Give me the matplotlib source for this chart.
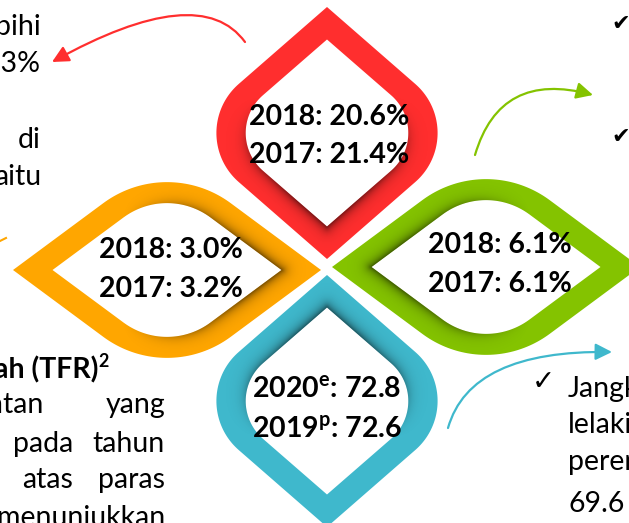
import numpy as np
import matplotlib
matplotlib.use("Agg")
import matplotlib.pyplot as plt
from matplotlib.path import Path
from matplotlib.patches import PathPatch, FancyArrowPatch, ArrowStyle

plt.rcParams['font.family'] = ['Lato', 'DejaVu Sans']
plt.rcParams['mathtext.fontset'] = 'custom'
plt.rcParams['mathtext.rm'] = 'Lato'
plt.rcParams['mathtext.bf'] = 'Lato:bold'

# ---------------- data ----------------
red_years = ["2018", "2017"]
red_values = [20.6, 21.4]
orange_years = ["2018", "2017"]
orange_values = [3.0, 3.2]
green_years = ["2018", "2017"]
green_values = [6.1, 6.1]
blue_years = [r"$\mathbf{2020}^{\mathbf{e}}$", r"$\mathbf{2019}^{\mathbf{p}}$"]
blue_values = [72.8, 72.6]

left_top_lines = ["bihi", "13%", "di", "aitu"]
left_bottom_title = "ah (TFR)"
left_bottom_note = "2"
left_bottom_words = [["ntan", "yang"], ["pada", "tahun"], ["atas", "paras"], ["menunjukkan"]]
right_bottom_lines = ["Jangka", "lelaki", "perempuan", "69.6"]

RED, ORANGE, GREEN, BLUE = "#ff2e2e", "#ffa600", "#84c300", "#3fb8cc"

W, H = 629, 523
fig = plt.figure(figsize=(W / 100, H / 100), dpi=100)
ax = fig.add_axes([0, 0, 1, 1])
ax.axis('off')


def rounded_rhombus(cx, cy, P, Q, r, vertical, n=48):
    if vertical:
        V = np.array([[cx, cy - P], [cx + Q, cy], [cx, cy + P], [cx - Q, cy]], float)
    else:
        V = np.array([[cx - P, cy], [cx, cy - Q], [cx + P, cy], [cx, cy + Q]], float)
    pts = []
    for i in range(4):
        v = V[i]
        if i % 2 == 0:
            pts.append(v)
            continue
        a = V[i - 1]
        c = V[(i + 1) % 4]
        u1 = (a - v) / np.linalg.norm(a - v)
        u2 = (c - v) / np.linalg.norm(c - v)
        half = np.arccos(np.clip(u1 @ u2, -1, 1)) / 2
        d = r / np.tan(half)
        t1 = v + u1 * d
        t2 = v + u2 * d
        b = (u1 + u2) / np.linalg.norm(u1 + u2)
        ctr = v + b * r / np.sin(half)
        a1 = np.arctan2(t1[1] - ctr[1], t1[0] - ctr[0])
        a2 = np.arctan2(t2[1] - ctr[1], t2[0] - ctr[0])
        da = (a2 - a1 + np.pi) % (2 * np.pi) - np.pi
        ang = a1 + da * np.linspace(0, 1, n)
        pts.extend(np.column_stack([ctr[0] + r * np.cos(ang), ctr[1] + r * np.sin(ang)]))
    return np.array(pts)


def poly_dist(X, Y, pts):
    P = np.vstack([pts, pts[:1]])
    d = np.full(X.shape, np.inf)
    for (x1, y1), (x2, y2) in zip(P[:-1], P[1:]):
        dx, dy = x2 - x1, y2 - y1
        L2 = dx * dx + dy * dy
        if L2 == 0:
            continue
        t = np.clip(((X - x1) * dx + (Y - y1) * dy) / L2, 0, 1)
        d = np.minimum(d, np.hypot(X - x1 - t * dx, Y - y1 - t * dy))
    return d


shapes = [
    dict(color=RED, cx=327, cy=133, vertical=True, outer=(126, 144.5, 65), inner=(93.5, 107.5, 50),
         toward=(0, 1), tx=329, base=(125, 163), years=red_years, values=red_values, unit="%"),
    dict(color=ORANGE, cx=167, cy=270, vertical=False, outer=(154, 114, 107), inner=(114.5, 84.7, 73),
         toward=(1, 0), tx=171, base=(258, 297), years=orange_years, values=orange_values, unit="%"),
    dict(color=GREEN, cx=486, cy=267, vertical=False, outer=(154, 114, 107), inner=(114.5, 84.7, 73),
         toward=(-1, 0), tx=500, base=(253, 292), years=green_years, values=green_values, unit="%"),
    dict(color=BLUE, cx=327, cy=401, vertical=True, outer=(126, 144.5, 65), inner=(93.5, 107.5, 50),
         toward=(0, -1), tx=327, base=(398, 437), years=blue_years, values=blue_values, unit=""),
]

for s in shapes:
    outer = rounded_rhombus(s['cx'], s['cy'], *s['outer'], s['vertical'])
    inner_pts = rounded_rhombus(s['cx'], s['cy'], *s['inner'], s['vertical'])
    inner = inner_pts[::-1]
    verts = np.concatenate([outer, outer[:1], inner, inner[:1]])
    codes = ([Path.MOVETO] + [Path.LINETO] * (len(outer) - 1) + [Path.CLOSEPOLY]
             + [Path.MOVETO] + [Path.LINETO] * (len(inner) - 1) + [Path.CLOSEPOLY])
    patch = PathPatch(Path(verts, codes), facecolor=s['color'], edgecolor='none', zorder=2)
    ax.add_patch(patch)

    # inner shadow on the side facing the centre
    x0, x1 = int(outer[:, 0].min()) - 2, int(outer[:, 0].max()) + 3
    y0, y1 = int(outer[:, 1].min()) - 2, int(outer[:, 1].max()) + 3
    X, Y = np.meshgrid(np.arange(x0, x1) + 0.5, np.arange(y0, y1) + 0.5)
    d = poly_dist(X, Y, inner_pts)
    Pin = s['inner'][0]
    proj = ((X - s['cx']) * s['toward'][0] + (Y - s['cy']) * s['toward'][1]) / Pin
    fade = np.clip(0.35 + 0.9 * proj, 0, 1)
    img = np.zeros(X.shape + (4,))
    img[..., 3] = 0.55 * np.exp(-d / 5.0) * fade
    im = ax.imshow(img, extent=(x0, x1, y1, y0), interpolation='bilinear', aspect='auto', zorder=3)
    im.set_clip_path(patch)

    for yr, val, yb in zip(s['years'], s['values'], s['base']):
        ax.text(s['tx'], yb, f"{yr}: {val:.1f}{s['unit']}", ha='center', va='baseline',
                fontsize=20.5, fontweight='bold', color='black', zorder=5)

# ---------------- arrows ----------------
def curved_arrow(p0, c, p1, color):
    path = Path([p0, c, p1], [Path.MOVETO, Path.CURVE3, Path.CURVE3])
    arr = FancyArrowPatch(path=path, arrowstyle=ArrowStyle('-|>', head_length=10, head_width=5),
                          color=color, lw=1.6, mutation_scale=1, zorder=4)
    ax.add_patch(arr)

curved_arrow((245, 42), (200, -20), (52, 62), RED)
curved_arrow((475, 155), (500, 70), (593, 95), GREEN)
curved_arrow((448, 428), (470, 350), (612, 352), BLUE)
ax.plot([0, 6], [241, 238], color=ORANGE, lw=1.5, zorder=4)

# ---------------- surrounding text ----------------
fs = 20.5
for txt, yb in zip(left_top_lines, [35, 72, 148, 185]):
    ax.text(41, yb, txt, ha='right', va='baseline', fontsize=fs, color='black')

ax.text(98, 378, left_bottom_title, ha='right', va='baseline', fontsize=fs, fontweight='bold', color='black')
ax.text(98.5, 367, left_bottom_note, ha='left', va='baseline', fontsize=13, fontweight='bold', color='black')
word_pos = [[43, 165], [73, 165], [73, 165], [165]]
for words, xs, yb in zip(left_bottom_words, word_pos, [413, 452, 488, 526]):
    for w_, xr in zip(words, xs):
        ax.text(xr, yb, w_, ha='right', va='baseline', fontsize=fs, color='black')

for yc in [24, 137]:
    ax.text(621, yc, "✔", ha='center', va='center', fontsize=16, color='black',
            family=['DejaVu Sans'])
ax.text(543, 382, "✓", ha='center', va='center', fontsize=20, color='black', family=['DejaVu Sans'])
for txt, yb in zip(right_bottom_lines, [397, 433, 470, 512]):
    ax.text(568, yb, txt, ha='left', va='baseline', fontsize=fs, color='black')

ax.set_xlim(0, W)
ax.set_ylim(H, 0)
fig.savefig("out.png", dpi=100)
